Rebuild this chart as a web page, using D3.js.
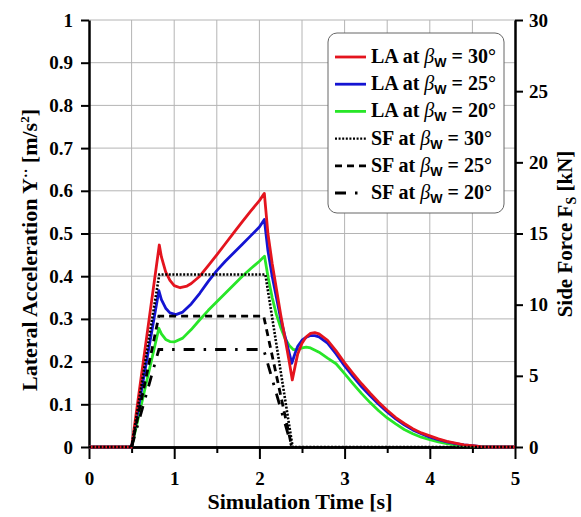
<!DOCTYPE html>
<html>
<head>
<meta charset="utf-8">
<script src="https://cdn.jsdelivr.net/npm/d3@7"></script>
<style>
  body { margin: 0; background: #fff; }
  svg text { font-family: "Liberation Serif", "Times New Roman", "DejaVu Serif", serif !important; font-weight: bold; }
  svg text tspan.sans { font-family: "Liberation Sans", sans-serif !important; }
</style>
</head>
<body>
<svg id="chart" width="581" height="517"></svg>
<script>
// time axis samples (s) and lateral acceleration (m/s^2)
const laRedT = [0, 0.5, 0.825, 0.85, 0.9, 0.95, 1.0, 1.07, 1.15, 1.2, 1.3, 1.4, 1.5, 1.6, 1.7, 1.8, 1.9, 2.0, 2.058,
  2.1, 2.15, 2.2, 2.25, 2.3, 2.35, 2.386, 2.42, 2.45, 2.5, 2.55, 2.6, 2.65, 2.7, 2.8, 2.9, 3.0, 3.1, 3.2, 3.3, 3.4, 3.5,
  3.6, 3.7, 3.8, 3.9, 4.0, 4.1, 4.2, 4.3, 4.4, 4.5, 4.6, 4.7, 5];
const laRed = [0, 0, 0.473, 0.445, 0.41, 0.39, 0.378, 0.373, 0.377, 0.383, 0.4, 0.425, 0.45, 0.476, 0.502, 0.528, 0.553, 0.577, 0.594,
  0.5, 0.43, 0.37, 0.31, 0.255, 0.2, 0.157, 0.19, 0.218, 0.243, 0.258, 0.266, 0.268, 0.265, 0.25, 0.225, 0.197, 0.172, 0.148, 0.126, 0.105, 0.086,
  0.069, 0.055, 0.043, 0.033, 0.026, 0.019, 0.013, 0.009, 0.005, 0.003, 0.001, 0, 0];

const laBlueT = [0, 0.5, 0.82, 0.85, 0.9, 0.95, 1.02, 1.1, 1.2, 1.3, 1.4, 1.5, 1.6, 1.7, 1.8, 1.9, 2.0, 2.058,
  2.1, 2.15, 2.2, 2.25, 2.3, 2.35, 2.38, 2.42, 2.45, 2.5, 2.55, 2.6, 2.65, 2.7, 2.8, 2.9, 3.0, 3.1, 3.2, 3.3, 3.4, 3.5,
  3.6, 3.7, 3.8, 3.9, 4.0, 4.1, 4.2, 4.3, 4.4, 4.5, 4.6, 4.7, 5];
const laBlue = [0, 0, 0.366, 0.345, 0.325, 0.314, 0.31, 0.316, 0.335, 0.36, 0.388, 0.413, 0.435, 0.455, 0.475, 0.495, 0.515, 0.533,
  0.46, 0.4, 0.35, 0.3, 0.26, 0.22, 0.196, 0.22, 0.236, 0.25, 0.257, 0.261, 0.261, 0.258, 0.243, 0.218, 0.19, 0.165, 0.141, 0.12, 0.1, 0.082,
  0.066, 0.052, 0.04, 0.031, 0.023, 0.017, 0.012, 0.008, 0.005, 0.003, 0.001, 0, 0];

const laGreenT = [0, 0.5, 0.82, 0.85, 0.9, 0.95, 1.0, 1.1, 1.2, 1.3, 1.4, 1.5, 1.6, 1.7, 1.8, 1.9, 2.0, 2.06,
  2.1, 2.15, 2.2, 2.25, 2.3, 2.35, 2.4, 2.45, 2.5, 2.55, 2.6, 2.7, 2.8, 2.9, 3.0, 3.1, 3.2, 3.3, 3.4, 3.5,
  3.6, 3.7, 3.8, 3.9, 4.0, 4.1, 4.2, 4.3, 4.4, 4.5, 4.6, 4.7, 5];
const laGreen = [0, 0, 0.278, 0.265, 0.252, 0.247, 0.246, 0.255, 0.275, 0.298, 0.32, 0.34, 0.36, 0.38, 0.4, 0.418, 0.435, 0.447,
  0.4, 0.35, 0.31, 0.28, 0.255, 0.238, 0.228, 0.228, 0.232, 0.234, 0.232, 0.222, 0.208, 0.195, 0.172, 0.148, 0.125, 0.104, 0.085, 0.068,
  0.054, 0.041, 0.031, 0.023, 0.017, 0.012, 0.008, 0.005, 0.003, 0.002, 0.001, 0, 0];

// side force (kN)
const sfT30 = [0, 0.5, 0.825, 2.07, 2.39, 5];
const sf30 = [0, 0, 12.12, 12.12, 0, 0];
const sfT25 = [0.5, 0.82, 2.05, 2.38];
const sf25 = [0, 9.2, 9.2, 0];
const sfT20 = [0.5, 0.82, 2.05, 2.38];
const sf20 = [0, 6.85, 6.85, 0];

const xTicks = [0, 1, 2, 3, 4, 5];
const xMinorTicks = [0.5, 1.5, 2.5, 3.5, 4.5];
const yLeftTicks = [0, 0.1, 0.2, 0.3, 0.4, 0.5, 0.6, 0.7, 0.8, 0.9, 1];
const yRightTicks = [0, 5, 10, 15, 20, 25, 30];
const legendAngles = ["30°", "25°", "20°", "30°", "25°", "20°"];

const svg = d3.select("#chart");
const m = { left: 89, right: 515, top: 20, bottom: 447 };

const x = d3.scaleLinear().domain([0, 5]).range([m.left, m.right]);
const y = d3.scaleLinear().domain([0, 1]).range([m.bottom, m.top]);
const yR = d3.scaleLinear().domain([0, 30]).range([m.bottom, m.top]);

// grid
const grid = svg.append("g").attr("stroke", "#b4b4b4").attr("stroke-width", 1);
grid.selectAll(".vg").data(d3.range(0.5, 5, 0.5)).enter().append("line")
  .attr("x1", d => x(d)).attr("x2", d => x(d)).attr("y1", m.top).attr("y2", m.bottom);
grid.selectAll(".hg").data(yLeftTicks.slice(1)).enter().append("line")
  .attr("x1", m.left).attr("x2", m.right).attr("y1", d => y(d)).attr("y2", d => y(d));

// axes
const axStyle = g => {
  g.attr("font-family", null);
  g.select(".domain").attr("stroke", "#000").attr("stroke-width", 2.5);
  g.selectAll(".tick line").attr("stroke", "#000").attr("stroke-width", 2);
  g.selectAll(".tick text").attr("fill", "#000").attr("font-size", 19);
};

svg.append("g").attr("transform", `translate(0,${m.bottom})`)
  .call(d3.axisBottom(x).tickValues(xTicks).tickFormat(d3.format("d")).tickSize(12).tickSizeOuter(0).tickPadding(13))
  .call(axStyle);
svg.append("g").attr("transform", `translate(0,${m.bottom})`)
  .call(d3.axisBottom(x).tickValues(xMinorTicks).tickFormat("").tickSize(6).tickSizeOuter(0))
  .call(axStyle);
svg.append("g").attr("transform", `translate(${m.left},0)`)
  .call(d3.axisLeft(y).tickValues(yLeftTicks).tickFormat(d => d === 0 || d === 1 ? d3.format("d")(d) : d3.format(".1f")(d))
    .tickSize(8).tickSizeOuter(0).tickPadding(8))
  .call(axStyle);
svg.append("g").attr("transform", `translate(${m.right},0)`)
  .call(d3.axisRight(yR).tickValues(yRightTicks).tickSize(8).tickSizeOuter(0).tickPadding(6))
  .call(axStyle);

// series
const laLine = d3.line().x(d => x(d[0])).y(d => y(d[1]));
const sfLine = d3.line().x(d => x(d[0])).y(d => yR(d[1]));
const zip = (a, b) => a.map((t, i) => [t, b[i]]);

const sfSeries = [
  { pts: zip(sfT30, sf30), dash: "2,1.6", w: 2.6 },
  { pts: zip(sfT25, sf25), dash: "7,5", w: 2.8 },
  { pts: zip(sfT20, sf20), dash: "11,9,2.5,9", w: 2.8 }
];
const laSeries = [
  { pts: zip(laGreenT, laGreen), color: "#28e628" },
  { pts: zip(laBlueT, laBlue), color: "#1414d2" },
  { pts: zip(laRedT, laRed), color: "#e4141e" }
];

svg.append("g").selectAll("path").data(laSeries).enter().append("path")
  .attr("d", d => laLine(d.pts)).attr("fill", "none")
  .attr("stroke", d => d.color).attr("stroke-width", 2.8).attr("stroke-linejoin", "round");
svg.append("g").selectAll("path").data(sfSeries).enter().append("path")
  .attr("d", d => sfLine(d.pts)).attr("fill", "none")
  .attr("stroke", "#000").attr("stroke-width", d => d.w).attr("stroke-dasharray", d => d.dash);

// legend
const lg = svg.append("g");
lg.append("rect").attr("x", 328).attr("y", 33).attr("width", 176).attr("height", 180)
  .attr("rx", 9).attr("fill", "#fff").attr("stroke", "#666").attr("stroke-width", 1);
const legendItems = [
  { label: "LA", color: "#e4141e", dash: null, w: 2.8 },
  { label: "LA", color: "#1414d2", dash: null, w: 2.8 },
  { label: "LA", color: "#28e628", dash: null, w: 2.8 },
  { label: "SF", color: "#000", dash: "2,1.6", w: 2.4 },
  { label: "SF", color: "#000", dash: "7,5", w: 2.8 },
  { label: "SF", color: "#000", dash: "11,9,2.5,9", w: 2.8 }
];
legendItems.forEach((it, i) => {
  const yy = 57 + i * 27.2;
  lg.append("line").attr("x1", 335).attr("x2", 366).attr("y1", yy).attr("y2", yy)
    .attr("stroke", it.color).attr("stroke-width", it.w).attr("stroke-dasharray", it.dash);
  const t = lg.append("text").attr("x", 371).attr("y", yy + 6).attr("font-size", 20);
  t.append("tspan").text(it.label + " at ");
  t.append("tspan").attr("font-style", "italic").attr("font-weight", "normal").text("β");
  t.append("tspan").attr("class", "sans").attr("font-size", 13).attr("dy", 4).text("W");
  t.append("tspan").attr("dy", -4).text(" = " + legendAngles[i]);
});

// axis titles
svg.append("text").attr("x", 300).attr("y", 509).attr("text-anchor", "middle")
  .attr("font-size", 22).text("Simulation Time [s]");

const lt = svg.append("text").attr("transform", "translate(37,250) rotate(-90)")
  .attr("text-anchor", "middle").attr("font-size", 22);
lt.append("tspan").text("Lateral Acceleration Y");
lt.append("tspan").attr("dy", -6).attr("font-size", 14).text("··");
lt.append("tspan").attr("dy", 6).text(" [m/s");
lt.append("tspan").attr("dy", -8).attr("font-size", 13).text("2");
lt.append("tspan").attr("dy", 8).text("]");

const rt = svg.append("text").attr("transform", "translate(572,234) rotate(-90)")
  .attr("text-anchor", "middle").attr("font-size", 21);
rt.append("tspan").text("Side Force F");
rt.append("tspan").attr("dy", 4).attr("font-size", 14).text("S");
rt.append("tspan").attr("dy", -4).text(" [kN]");
</script>
</body>
</html>
